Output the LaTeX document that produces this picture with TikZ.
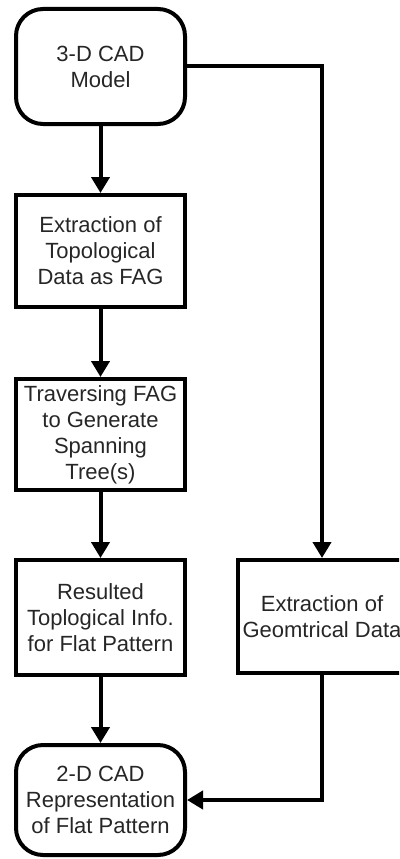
\documentclass[tikz,border=0pt]{standalone}
\usepackage{fontspec}
\setmainfont{Liberation Sans}
\usetikzlibrary{arrows.meta}
\begin{document}
\begin{tikzpicture}[x=1pt,y=-1pt,
  box/.style={draw, line width=4pt, minimum width=169pt, align=center,
    font=\fontsize{22}{26}\selectfont, inner sep=0pt, text=black!85},
  roundbox/.style={box, rounded corners=27pt},
  flow/.style={line width=4pt, -{Triangle[width=18pt,length=16pt]}}]
\useasboundingbox (0,0) rectangle (399,859);
\clip (0,0) rectangle (399,859);

% main column
\node[roundbox, minimum height=115pt] (cad3) at (100.5,66.5) {3-D CAD\\Model};
\node[box, minimum height=112pt] (topo) at (100.5,251) {Extraction of\\Topological\\Data as FAG};
\node[box, minimum height=111pt] (tree) at (100.5,434.5) {Traversing FAG\\to Generate\\Spanning\\Tree(s)};
\node[box, minimum height=115pt] (info) at (100.5,617.5) {Resulted\\Toplogical Info.\\for Flat Pattern};
\node[roundbox, minimum height=110pt] (cad2) at (100.5,800) {2-D CAD\\Representation\\of Flat Pattern};

% side branch
\node[box, minimum height=113pt] (geo) at (322,616.5) {Extraction of\\Geomtrical Data};

% connectors
\draw[flow] (cad3) -- (topo);
\draw[flow] (topo) -- (tree);
\draw[flow] (tree) -- (info);
\draw[flow] (info) -- (cad2);
\draw[flow] (cad3.east) -| (geo.north);
\draw[flow] (geo.south) |- (cad2.east);
\end{tikzpicture}
\end{document}
